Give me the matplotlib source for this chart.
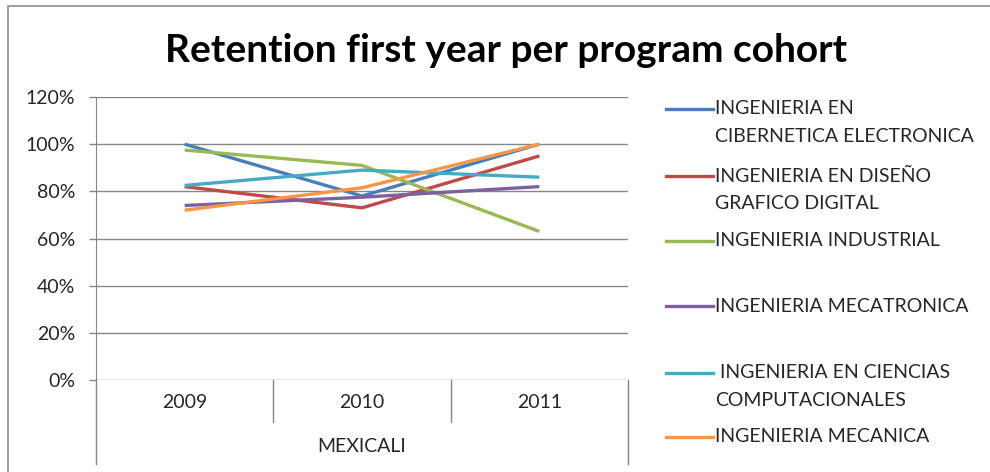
import matplotlib.pyplot as plt
from matplotlib.lines import Line2D
from matplotlib.patches import Rectangle
from matplotlib.ticker import PercentFormatter

plt.rcParams['font.family'] = ['Lato', 'DejaVu Sans']

years = ['2009', '2010', '2011']
campus = 'MEXICALI'
programs = [
    'INGENIERIA EN\nCIBERNETICA ELECTRONICA',
    'INGENIERIA EN DISEÑO\nGRAFICO DIGITAL',
    'INGENIERIA INDUSTRIAL',
    'INGENIERIA MECATRONICA',
    ' INGENIERIA EN CIENCIAS\nCOMPUTACIONALES',
    'INGENIERIA MECANICA',
]
cibernetica = [1.00, 0.78, 1.00]
diseno = [0.82, 0.73, 0.95]
industrial = [0.975, 0.91, 0.63]
mecatronica = [0.74, 0.775, 0.82]
computacion = [0.825, 0.89, 0.86]
mecanica = [0.72, 0.815, 1.00]
series = [cibernetica, diseno, industrial, mecatronica, computacion, mecanica]
colors = ['#4A7EBB', '#BE4B48', '#98B954', '#7D60A0', '#46AAC5', '#F79646']

W, H = 990, 472
fig = plt.figure(figsize=(W / 100, H / 100), dpi=100)

# outer chart frame (runs off the right and bottom edges)
fig.add_artist(Rectangle((8 / W, -0.1), 1.2, 1.1 - 6 / H, transform=fig.transFigure,
                         fill=False, edgecolor='#8c8c8c', linewidth=1.2))

fig.text(506 / W, 1 - 50 / H, 'Retention first year per program cohort',
         ha='center', va='center', fontsize=28, fontweight='bold', color='black')

left, right, top, bottom = 96, 628, 97, 380
ax = fig.add_axes([left / W, 1 - bottom / H, (right - left) / W, (bottom - top) / H])

x = range(len(years))
for vals, c in zip(series, colors):
    ax.plot(x, vals, color=c, linewidth=2.4, solid_capstyle='butt')

ax.set_xlim(-0.5, len(years) - 0.5)
ax.set_ylim(0, 1.2)
ax.set_yticks([0, 0.2, 0.4, 0.6, 0.8, 1.0, 1.2])
ax.yaxis.set_major_formatter(PercentFormatter(1.0, decimals=0))
ax.grid(axis='y', color='#868686', linewidth=1.0)
ax.set_axisbelow(True)
ax.tick_params(axis='y', length=5, width=1, color='#868686', pad=10,
               labelsize=14, labelcolor='#262626')
ax.set_xticks([])
for s in ['top', 'right', 'bottom']:
    ax.spines[s].set_visible(False)
ax.spines['left'].set_color('#868686')

# two-level category axis drawn as a small table below the plot
ah = bottom - top
row1 = -42 / ah
row2 = -84 / ah
xt = ax.get_xaxis_transform()
for b in [0.5, 1.5]:
    ax.plot([b, b], [0, row1], transform=xt, color='#868686', linewidth=1, clip_on=False)
for b in [-0.5, len(years) - 0.5]:
    ax.plot([b, b], [0, row2], transform=xt, color='#868686', linewidth=1, clip_on=False)
for i, yr in enumerate(years):
    ax.text(i, -22 / ah, yr, transform=xt, ha='center', va='center',
            fontsize=14, color='#262626')
ax.text((len(years) - 1) / 2, -67 / ah, campus, transform=xt, ha='center', va='center',
        fontsize=14, color='#262626')

# legend with the key aligned to the first text line
entry_y = [109, 176, 241, 306, 373, 437]
for lab, c, yy in zip(programs, colors, entry_y):
    fig.add_artist(Line2D([666 / W, 713 / W], [1 - yy / H, 1 - yy / H], color=c,
                          linewidth=2.4, transform=fig.transFigure))
    for k, line in enumerate(lab.split('\n')):
        fig.text(715 / W, 1 - (yy + 27 * k) / H, line, ha='left', va='center',
                 fontsize=14, color='#262626')

fig.savefig('out.png', dpi=100)
